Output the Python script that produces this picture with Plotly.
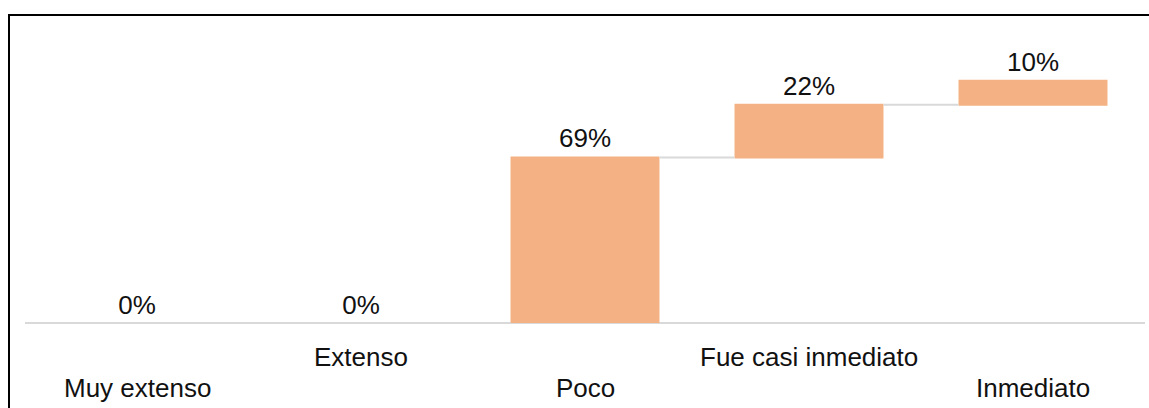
import plotly.graph_objects as go

# Response categories and their share of answers (percent)
categories = ["Muy extenso", "Extenso", "Poco", "Fue casi inmediato", "Inmediato"]
shares = [0, 0, 69, 22, 10]
labels = [f"{v}%" for v in shares]
# Which categories sit on the lower row of the staggered axis labels
lower_row = [True, False, True, False, True]

W, H = 1149, 408
M_L, M_R, M_T, M_B = 25, 4, 20, 85
plot_h = H - M_T - M_B
y_max = 126.3

fig = go.Figure(
    go.Waterfall(
        x=categories,
        y=shares,
        measure=["relative"] * len(shares),
        text=labels,
        textposition="outside",
        textfont=dict(family="Liberation Sans, Arial", size=26, color="#111111"),
        increasing=dict(marker=dict(color="#F4B183", line=dict(width=0))),
        decreasing=dict(marker=dict(color="#F4B183", line=dict(width=0))),
        totals=dict(marker=dict(color="#F4B183", line=dict(width=0))),
        connector=dict(mode="between", line=dict(color="#D9D9D9", width=2)),
        hoverinfo="skip",
        cliponaxis=False,
    )
)

def py_to_paper(py):
    return (H - M_B - py) / plot_h

# Staggered category labels under the axis
for cat, low in zip(categories, lower_row):
    fig.add_annotation(
        x=cat, xref="x",
        y=py_to_paper(388 if low else 357), yref="paper",
        yanchor="middle", xanchor="center",
        text=cat, showarrow=False,
        font=dict(family="Liberation Sans, Arial", size=26, color="#111111"),
    )

# Outer chart frame
fig.add_shape(
    type="rect", xref="paper", yref="paper",
    x0=(9 - M_L) / (W - M_L - M_R), x1=1.2,
    y0=-0.6, y1=py_to_paper(15),
    line=dict(color="#000000", width=2), fillcolor="rgba(0,0,0,0)",
    layer="above",
)

fig.update_layout(
    width=W, height=H,
    margin=dict(l=M_L, r=M_R, t=M_T, b=M_B),
    paper_bgcolor="white", plot_bgcolor="white",
    showlegend=False,
    waterfallgap=0.335,
    xaxis=dict(showticklabels=False, showgrid=False, zeroline=False,
               showline=False, ticks=""),
    yaxis=dict(range=[0, y_max], showticklabels=False, showgrid=False,
               zeroline=True, zerolinecolor="#D9D9D9", zerolinewidth=2,
               showline=False, ticks=""),
)

fig.write_html("out.html")
